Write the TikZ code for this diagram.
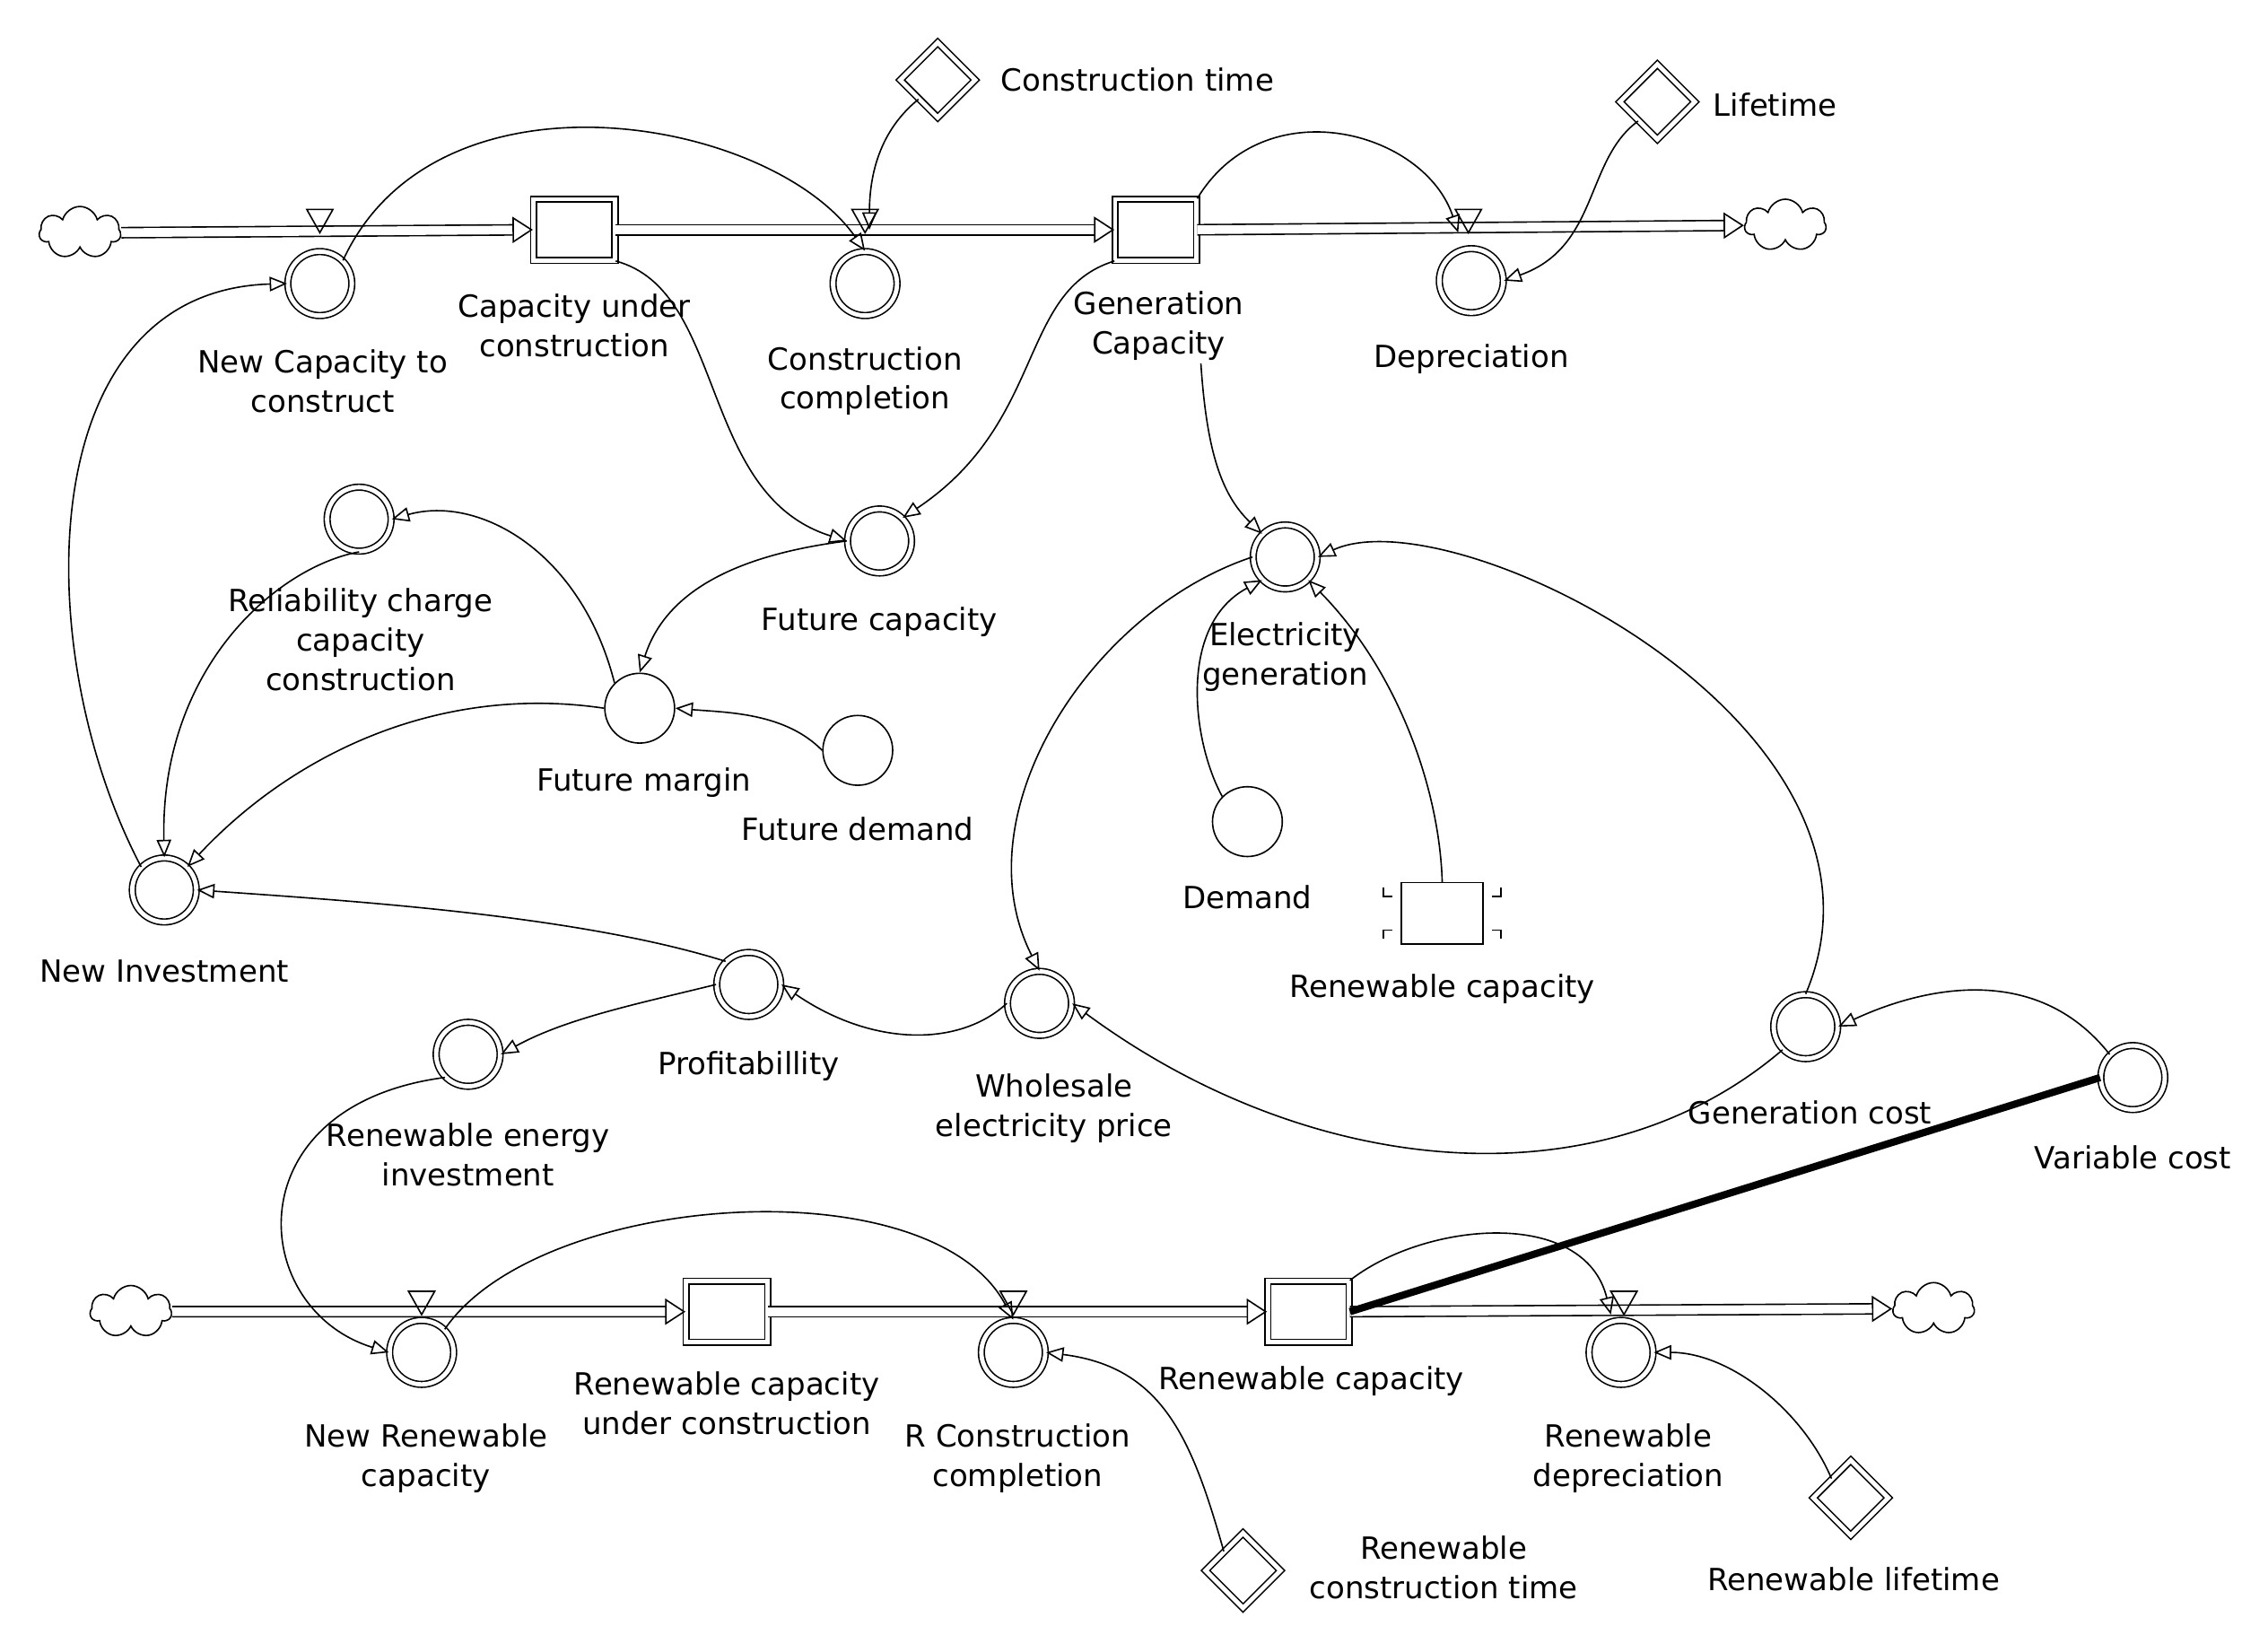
\documentclass[tikz,border=0pt]{standalone}
\usepackage{fontspec}
\setmainfont{DejaVu Sans}
\usetikzlibrary{arrows.meta,shapes.geometric,shapes.symbols}
\begin{document}
\begin{tikzpicture}[x=0.5pt,y=-0.5pt,
  every node/.style={inner sep=0pt},
  lbl/.style={font=\fontsize{10.5}{13.5}\selectfont,align=center},
  aux/.style={draw,circle,minimum size=22pt,double,double distance=1.5pt,line width=0.5pt},
  sing/.style={draw,circle,minimum size=24pt,line width=0.5pt},
  stock/.style={draw,rectangle,minimum width=28pt,minimum height=21pt,double,double distance=1.5pt,line width=0.5pt},
  cst/.style={draw,diamond,minimum size=26pt,double,double distance=1.5pt,line width=0.5pt},
  cl/.style={draw,cloud,cloud puffs=7,minimum width=28pt,minimum height=18pt,line width=0.5pt},
  lnk/.style={-{Triangle[open,length=6pt,width=5pt]},line width=0.5pt},
  pipe/.style={double,double distance=3pt,line width=0.5pt,-{Triangle[open,length=7pt,width=9pt]}},
  valve/.style={draw,line width=0.5pt}]
\useasboundingbox (0,0) rectangle (1560,1124);
% top chain
\node[cl] (c1) at (55,160) {};
\node[stock] (cuc) at (395,158) {};
\node[stock] (gc) at (795,158) {};
\node[cl] (c2) at (1228,155) {};
\draw[pipe] (c1.east) -- (cuc.west);
\draw[pipe] (cuc.east) -- (gc.west);
\draw[pipe] (gc.east) -- (c2.west);
\node[aux] (nc) at (220,195) {};
\node[aux] (cc) at (595,195) {};
\node[aux] (dep) at (1012,193) {};
\foreach \x in {220,595,1010} \draw[valve] (\x-9,144) -- (\x+9,144) -- (\x,160) -- cycle;
\node[lbl] (lnc) at (222,262) {New Capacity to\\construct};
\node[lbl] (lcuc) at (395,224) {Capacity under\\construction};
\node[lbl] (lcc) at (595,262) {Construction\\completion};
\node[lbl] (lgc) at (797,224) {Generation\\Capacity};
\node[lbl] (ldep) at (1012,247) {Depreciation};
\node[cst] (ct) at (645,55) {};
\node[lbl,anchor=west] (lct) at (688,55) {Construction time};
\node[cst] (lt) at (1140,70) {};
\node[lbl,anchor=west] (llt) at (1178,72) {Lifetime};
% middle
\node[aux] (fc) at (605,372) {};
\node[lbl] (lfc) at (605,428) {Future capacity};
\node[aux] (eg) at (884,383) {};
\node[lbl] (leg) at (884,452) {Electricity\\generation};
\node[aux] (rc) at (247,357) {};
\node[lbl] (lrc) at (248,440) {Reliability charge\\capacity\\construction};
\node[sing] (fm) at (440,487) {};
\node[lbl] (lfm) at (443,538) {Future margin};
\node[sing] (fd) at (590,516) {};
\node[lbl] (lfd) at (590,570) {Future demand};
\node[aux] (ni) at (113,612) {};
\node[lbl] (lni) at (113,668) {New Investment};
\node[sing] (dm) at (858,565) {};
\node[lbl] (ldm) at (858,617) {Demand};
\node[stock,double=none,draw] (rcs) at (992,628) {};
\draw[line width=0.5pt] ([shift={(-6pt,-2pt)}]rcs.north west) -- ++(0,-3pt) -- ++(3pt,0)
  ([shift={(6pt,-2pt)}]rcs.north east) -- ++(0,-3pt) -- ++(-3pt,0)
  ([shift={(-6pt,2pt)}]rcs.south west) -- ++(0,3pt) -- ++(3pt,0)
  ([shift={(6pt,2pt)}]rcs.south east) -- ++(0,3pt) -- ++(-3pt,0);
\node[lbl] (lrcs) at (992,680) {Renewable capacity};
\node[aux] (pr) at (515,677) {};
\node[lbl] (lpr) at (515,733) {Profitabillity};
\node[aux] (wp) at (715,690) {};
\node[lbl] (lwp) at (725,762) {Wholesale\\electricity price};
\node[aux] (gcost) at (1242,706) {};
\node[lbl] (lgcost) at (1245,765) {Generation cost};
\node[aux] (vc) at (1467,741) {};
\node[lbl] (lvc) at (1467,796) {Variable cost};
\node[aux] (rei) at (322,725) {};
\node[lbl] (lrei) at (322,794) {Renewable energy\\investment};
% bottom chain
\node[cl] (c3) at (90,902) {};
\node[stock] (rcuc) at (500,902) {};
\node[stock] (rcap) at (900,902) {};
\node[cl] (c4) at (1330,900) {};
\draw[pipe] (c3.east) -- (rcuc.west);
\draw[pipe] (rcuc.east) -- (rcap.west);
\draw[pipe] (rcap.east) -- (c4.west);
\node[aux] (nrc) at (290,930) {};
\node[aux] (rcc) at (697,930) {};
\node[aux] (rd) at (1115,930) {};
\foreach \x in {290,697,1117} \draw[valve] (\x-9,888) -- (\x+9,888) -- (\x,904) -- cycle;
\node[lbl] (lnrc) at (293,1003) {New Renewable\\capacity};
\node[lbl] (lrcuc) at (500,965) {Renewable capacity\\under construction};
\node[lbl] (lrcc) at (700,1003) {R Construction\\completion};
\node[lbl] (lrcap) at (902,950) {Renewable capacity};
\node[lbl] (lrd) at (1120,1003) {Renewable\\depreciation};
\node[cst] (rct) at (855,1080) {};
\node[lbl] (lrct) at (993,1078) {Renewable\\construction time};
\node[cst] (rlt) at (1273,1030) {};
\node[lbl] (lrlt) at (1275,1086) {Renewable lifetime};
\draw[line width=2.5pt] (rcap.east) -- (vc.west);
% links
\draw[lnk] (nc.north east) .. controls (300,40) and (530,80) .. (cc.north);
\draw[lnk] (ct.south west) .. controls (605,90) and (598,120) .. (598,158);
\draw[lnk] (gc.north east) .. controls (870,60) and (980,90) .. (1003,160);
\draw[lnk] (lt.south west) .. controls (1090,110) and (1100,170) .. (dep.east);
\draw[lnk] (cuc.south east) .. controls (500,200) and (480,340) .. (fc.west);
\draw[lnk] (gc.south west) .. controls (700,200) and (720,290) .. (fc.north east);
\draw[lnk] (826,250) .. controls (830,310) and (840,340) .. (eg.north west);
\draw[lnk] (fc.west) .. controls (520,380) and (460,400) .. (fm.north);
\draw[lnk] (fm.north west) .. controls (400,380) and (330,340) .. (rc.east);
\draw[lnk] (fd.west) .. controls (540,490) and (500,490) .. (fm.east);
\draw[lnk] (rc.south) .. controls (190,390) and (110,460) .. (ni.north);
\draw[lnk] (fm.west) .. controls (300,470) and (200,520) .. (ni.north east);
\draw[lnk] (ni.north west) .. controls (20,450) and (20,200) .. (nc.west);
\draw[lnk] (pr.north west) .. controls (400,630) and (250,620) .. (ni.east);
\draw[lnk] (pr.west) .. controls (440,690) and (390,700) .. (rei.east);
\draw[lnk] (wp.west) .. controls (660,720) and (600,720) .. (pr.east);
\draw[lnk] (eg.west) .. controls (750,420) and (660,560) .. (wp.north);
\draw[lnk] (dm.north west) .. controls (820,510) and (810,430) .. (eg.south west);
\draw[lnk] (rcs.north) .. controls (990,540) and (960,460) .. (eg.south east);
\draw[lnk] (gcost.north) .. controls (1320,500) and (1000,340) .. (eg.east);
\draw[lnk] (gcost.south west) .. controls (1100,830) and (900,810) .. (wp.east);
\draw[lnk] (vc.north west) .. controls (1400,660) and (1320,680) .. (gcost.east);
\draw[lnk] (rei.south west) .. controls (160,760) and (170,900) .. (nrc.west);
\draw[lnk] (nrc.north east) .. controls (370,820) and (640,800) .. (rcc.north);
\draw[lnk] (rct.north west) .. controls (820,990) and (800,940) .. (rcc.east);
\draw[lnk] (rcap.north east) .. controls (980,840) and (1090,830) .. (1108,904);
\draw[lnk] (rlt.north west) .. controls (1240,970) and (1190,930) .. (rd.east);
\end{tikzpicture}
\end{document}
